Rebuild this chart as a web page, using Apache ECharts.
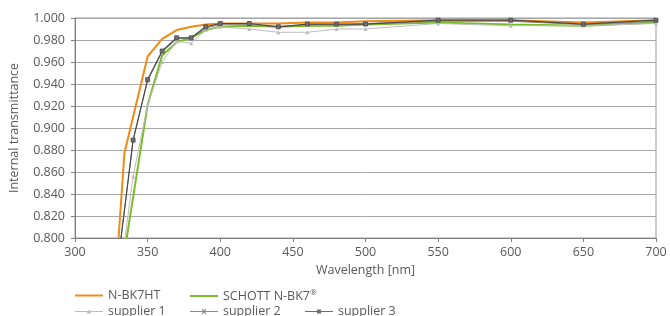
<!DOCTYPE html>
<html>
<head>
<meta charset="utf-8">
<script src="https://cdn.jsdelivr.net/npm/echarts@6/dist/echarts.min.js"></script>
<style>html,body{margin:0;padding:0;background:#fff}#c{width:670px;height:316px}</style>
</head>
<body>
<div id="c"></div>
<script>
const wlHT = [330, 334, 350, 360, 370, 380, 390, 400, 420, 440, 460, 480, 500, 550, 600, 650, 700];
const nbk7ht = [0.800, 0.877, 0.965, 0.981, 0.989, 0.992, 0.994, 0.995, 0.995, 0.995, 0.996, 0.996, 0.997, 0.998, 0.998, 0.996, 0.998];
const wl = [330, 340, 350, 360, 370, 380, 390, 400, 420, 440, 460, 480, 500, 550, 600, 650, 700];
const schottNbk7 = [0.753, 0.837, 0.921, 0.966, 0.978, 0.982, 0.989, 0.992, 0.993, 0.992, 0.993, 0.993, 0.994, 0.996, 0.994, 0.993, 0.996];
const supplier1 = [0.756, 0.856, 0.921, 0.960, 0.979, 0.977, 0.989, 0.992, 0.990, 0.987, 0.987, 0.990, 0.990, 0.995, 0.993, 0.993, 0.995];
const supplier2 = [0.782, 0.889, 0.943, 0.969, 0.981, 0.982, 0.991, 0.994, 0.994, 0.992, 0.994, 0.994, 0.995, 0.997, 0.997, 0.994, 0.997];
const supplier3 = [0.782, 0.889, 0.944, 0.970, 0.982, 0.982, 0.992, 0.995, 0.995, 0.992, 0.9945, 0.9945, 0.9945, 0.998, 0.998, 0.9945, 0.998];
const names = ['N-BK7HT', 'SCHOTT N-BK7®', 'supplier 1', 'supplier 2', 'supplier 3'];

const pairs = (xs, ys) => xs.map((x, i) => [x, ys[i]]);
const FONT = 'Open Sans';
const TXT = '#595959';
const xSym = 'path://M0,1L1,0L5,4L9,0L10,1L6,5L10,9L9,10L5,6L1,10L0,9L4,5Z';

// legend icons drawn in a 28x8 box
const iconLine = 'path://M0,3L28,3L28,5L0,5Z';
const iconThin = 'path://M0,3.5L28,3.5L28,4.5L0,4.5Z';
const iconTri = iconThin + 'M14,2L16.5,6L11.5,6Z';
const iconX = iconThin + 'M11.7,1.7L12.4,1L14,2.9L15.6,1L16.3,1.7L14.7,4L16.3,6.3L15.6,7L14,5.1L12.4,7L11.7,6.3L13.3,4Z';
const iconSq = iconThin + 'M12,2L16,2L16,6L12,6Z';

function lg(name, icon, left, top) {
  return {data: [{name: name, icon: icon, itemStyle: {borderWidth: 0}}], left: left, top: top, padding: 0, itemGap: 0,
          itemWidth: 28, itemHeight: 8, selectedMode: false,
          formatter: n => n.replace('®', '{s|®}'),
          textStyle: {color: TXT, fontFamily: FONT, fontSize: 12.5,
                      rich: {s: {fontSize: 8, color: TXT, fontFamily: FONT, verticalAlign: 'top', padding: [0, 0, 6, 0]}}}};
}

const chart = echarts.init(document.getElementById('c'), null, {renderer: 'canvas'});
chart.setOption({
  animation: false,
  textStyle: {fontFamily: FONT},
  grid: {left: 75, right: 14, top: 18, bottom: 78, show: true, borderColor: '#9a9a9a', borderWidth: 1},
  legend: [
    lg(names[0], iconLine, 75, 289),
    lg(names[1], iconLine, 190, 289),
    lg(names[2], iconTri, 75, 305),
    lg(names[3], iconX, 190, 305),
    lg(names[4], iconSq, 305, 305)
  ],
  xAxis: {
    type: 'value', min: 300, max: 700, interval: 50,
    name: 'Wavelength [nm]', nameLocation: 'middle', nameGap: 24,
    nameTextStyle: {color: TXT, fontSize: 12.5, fontFamily: FONT},
    axisLine: {lineStyle: {color: '#808080', width: 1}},
    axisTick: {show: true, length: 4, lineStyle: {color: '#808080'}},
    axisLabel: {color: TXT, fontSize: 12.5, margin: 8},
    splitLine: {show: false}
  },
  yAxis: {
    type: 'value', min: 0.8, max: 1.0, interval: 0.02,
    name: 'Internal transmittance', nameLocation: 'middle', nameGap: 54,
    nameTextStyle: {color: TXT, fontSize: 12.5, fontFamily: FONT},
    axisLine: {show: true, lineStyle: {color: '#808080', width: 1}},
    axisTick: {show: true, length: 4, lineStyle: {color: '#808080'}},
    axisLabel: {color: TXT, fontSize: 12.5, margin: 10, formatter: v => v.toFixed(3)},
    splitLine: {show: true, lineStyle: {color: '#a6a6a6', width: 1}}
  },
  series: [
    {name: names[0], type: 'line', data: pairs(wlHT, nbk7ht), showSymbol: false, symbol: 'none',
     lineStyle: {color: '#f28a16', width: 2}, itemStyle: {color: '#f28a16'}, z: 3},
    {name: names[1], type: 'line', data: pairs(wl, schottNbk7), showSymbol: false, symbol: 'none',
     lineStyle: {color: '#7dbb2a', width: 2}, itemStyle: {color: '#7dbb2a'}, z: 3},
    {name: names[2], type: 'line', data: pairs(wl, supplier1), symbol: 'triangle', symbolSize: 4, showSymbol: true,
     lineStyle: {color: '#bdbdbd', width: 1}, itemStyle: {color: '#bdbdbd'}, z: 4},
    {name: names[3], type: 'line', data: pairs(wl, supplier2), symbol: xSym, symbolSize: 4, showSymbol: true,
     lineStyle: {color: '#8a8a8a', width: 1}, itemStyle: {color: '#8a8a8a'}, z: 4},
    {name: names[4], type: 'line', data: pairs(wl, supplier3), symbol: 'rect', symbolSize: 4, showSymbol: true,
     lineStyle: {color: '#4a4a4a', width: 1.2}, itemStyle: {color: '#6e6e6e', borderColor: '#4a4a4a', borderWidth: 0.8}, z: 5}
  ]
});
</script>
</body>
</html>
